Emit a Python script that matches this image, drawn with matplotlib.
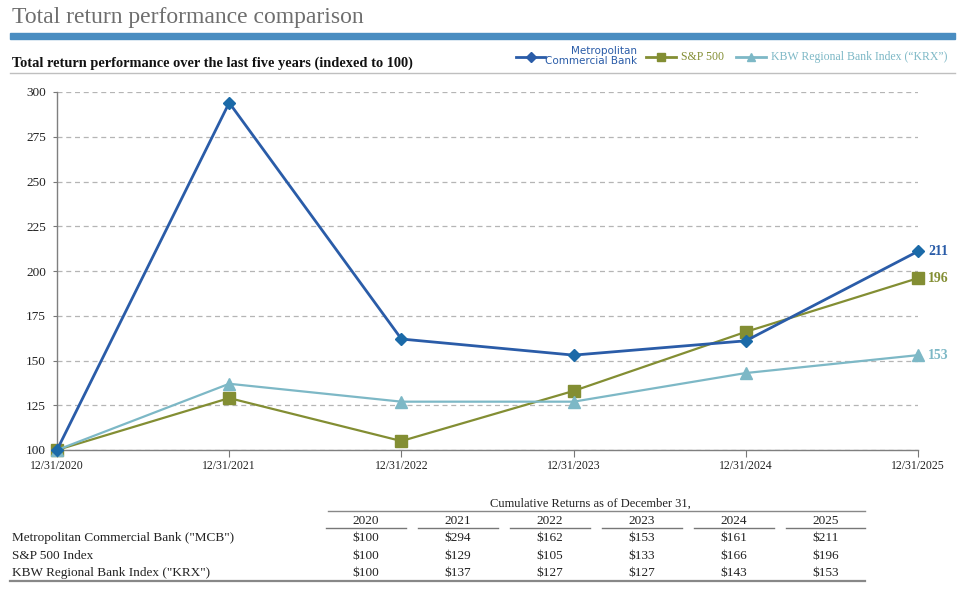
import matplotlib
matplotlib.use("Agg")
import matplotlib.pyplot as plt
from matplotlib.lines import Line2D
from matplotlib.patches import Rectangle

W, H = 971, 589

# ---- data ----
x_labels = ["12/31/2020", "12/31/2021", "12/31/2022", "12/31/2023", "12/31/2024", "12/31/2025"]
years = ["2020", "2021", "2022", "2023", "2024", "2025"]
mcb = [100, 294, 162, 153, 161, 211]
spx = [100, 129, 105, 133, 166, 196]
krx = [100, 137, 127, 127, 143, 153]
y_ticks = [100, 125, 150, 175, 200, 225, 250, 275, 300]
row_labels = ['Metropolitan Commercial Bank ("MCB")', 'S&P 500 Index', 'KBW Regional Bank Index ("KRX")']

C_MCB_LINE = "#2A5CA8"
C_MCB_MK = "#1B6AA8"
C_SPX = "#838E33"
C_KRX = "#7DB8C6"
SERIF = "Liberation Serif"

plt.rcParams['font.family'] = [SERIF, 'DejaVu Serif']

fig = plt.figure(figsize=(W / 100, H / 100), dpi=100)


def fx(x):
    return x / W


def fy(y):
    return 1 - y / H


# title
fig.text(fx(12), fy(18), "Total return performance comparison", fontsize=17,
         color="#6E6E6E", ha="left", va="center", family=SERIF)
fig.patches.append(Rectangle((fx(10), fy(39)), fx(955) - fx(10), fy(33) - fy(39),
                             transform=fig.transFigure, color="#4A8DC1", zorder=1))
fig.text(fx(12), fy(63), "Total return performance over the last five years (indexed to 100)",
         fontsize=10.4, fontweight="bold", color="#111111", ha="left", va="center", family=SERIF)
fig.lines.append(Line2D([fx(10), fx(955)], [fy(73), fy(73)], transform=fig.transFigure,
                        color="#BFBFBF", lw=1.0))

# legend (manual)
def leg_item(x0, x1, y, color, marker, ms):
    fig.lines.append(Line2D([fx(x0), fx(x1)], [fy(y), fy(y)], transform=fig.transFigure,
                            color=color, lw=2))
    fig.lines.append(Line2D([fx((x0 + x1) / 2)], [fy(y)], transform=fig.transFigure,
                            color=color, marker=marker, ms=ms, lw=0))


leg_item(516, 545, 57, C_MCB_LINE, "D", 5)
fig.text(fx(637), fy(51), "Metropolitan", fontsize=7.5, color=C_MCB_LINE, ha="right",
         va="center", family="DejaVu Sans")
fig.text(fx(637), fy(61), "Commercial Bank", fontsize=7.5, color=C_MCB_LINE, ha="right",
         va="center", family="DejaVu Sans")
leg_item(646, 676, 57, C_SPX, "s", 6)
fig.text(fx(681), fy(57), "S&P 500", fontsize=8.5, color=C_SPX, ha="left", va="center")
leg_item(736, 766, 57, C_KRX, "^", 6)
fig.text(fx(771), fy(57), "KBW Regional Bank Index (\u201cKRX\u201d)", fontsize=8.5, color=C_KRX,
         ha="left", va="center")

# axes
ax = fig.add_axes([fx(57), fy(450), fx(918) - fx(57), fy(92) - fy(450)])
xs = list(range(len(x_labels)))
ax.plot(xs, spx, color=C_SPX, lw=1.6, marker="s", ms=8, mfc=C_SPX, mec=C_SPX, zorder=3)
ax.plot(xs, krx, color=C_KRX, lw=1.6, marker="^", ms=8, mfc=C_KRX, mec=C_KRX, zorder=3)
ax.plot(xs, mcb, color=C_MCB_LINE, lw=2.0, marker="D", ms=6.5, mfc=C_MCB_MK, mec=C_MCB_MK, zorder=4)

ax.set_xlim(0, 5)
ax.set_ylim(100, 300)
ax.set_yticks(y_ticks)
ax.set_yticklabels([str(v) for v in y_ticks])
ax.set_xticks(xs)
ax.set_xticklabels(x_labels)
ax.tick_params(axis="x", labelsize=8.5, direction="out", length=5, width=0.8,
               color="#777777", pad=2)
ax.tick_params(axis="y", labelsize=9.5, length=3, width=0.8, color="#777777", pad=5)
for t in ax.get_yticklabels() + ax.get_xticklabels():
    t.set_color("#222222")
ax.grid(axis="y", linestyle=(0, (4, 3)), color="#B5B5B5", lw=0.9)
ax.set_axisbelow(True)
for s in ["top", "right"]:
    ax.spines[s].set_visible(False)
for s in ["left", "bottom"]:
    ax.spines[s].set_color("#7F7F7F")
    ax.spines[s].set_linewidth(1.0)
for ln in ax.lines:
    ln.set_clip_on(False)

# end labels
for vals, col in [(mcb, C_MCB_LINE), (spx, C_SPX), (krx, C_KRX)]:
    ax.annotate(str(vals[-1]), (5, vals[-1]), xytext=(7.5, 0), textcoords="offset points",
                fontsize=10, fontweight="bold", color=col, va="center", ha="left",
                annotation_clip=False)

# table
col_centers = [366, 458, 550, 642, 734, 826]
TFS = 9.5
fig.text(fx(590), fy(504), "Cumulative Returns as of December 31,", fontsize=9,
         color="#222222", ha="center", va="center")
fig.lines.append(Line2D([fx(328), fx(865)], [fy(511), fy(511)], transform=fig.transFigure,
                        color="#888888", lw=1.0))
for i, yr in enumerate(years):
    cx = col_centers[i]
    fig.text(fx(cx), fy(520.5), yr, fontsize=TFS, color="#222222", ha="center", va="center")
    x0 = cx - 40
    x1 = cx + 40 if i < 5 else 865
    fig.lines.append(Line2D([fx(x0), fx(x1)], [fy(528), fy(528)], transform=fig.transFigure,
                            color="#777777", lw=1.0))
row_y = [538, 556, 573]
for r, (lab, vals) in enumerate(zip(row_labels, [mcb, spx, krx])):
    fig.text(fx(12), fy(row_y[r]), lab, fontsize=TFS, color="#222222", ha="left", va="center")
    for i, v in enumerate(vals):
        fig.text(fx(col_centers[i]), fy(row_y[r]), f"${v}", fontsize=TFS, color="#222222",
                 ha="center", va="center")
fig.lines.append(Line2D([fx(10), fx(865)], [fy(581), fy(581)], transform=fig.transFigure,
                        color="#888888", lw=1.6))

fig.savefig("out.png", dpi=100)
